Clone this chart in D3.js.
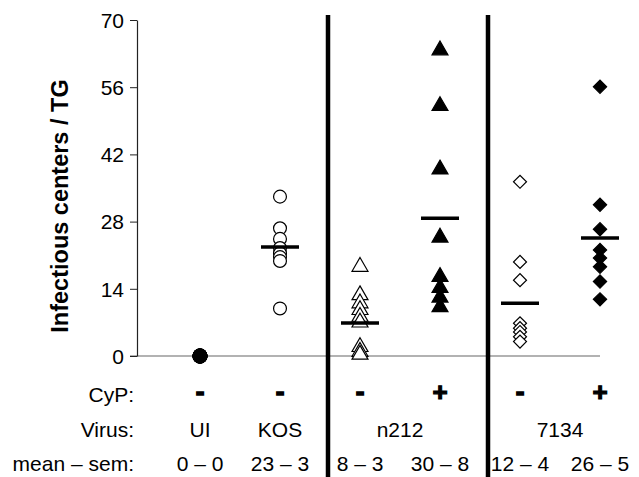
<!DOCTYPE html>
<html><head><meta charset="utf-8">
<script src="https://cdn.jsdelivr.net/npm/d3@7"></script>
<style>body{margin:0;background:#fff}svg{display:block}</style>
</head><body>
<svg id="c" width="639" height="477"></svg>
<script>
const categories = ["UI","KOS","n212-","n212+","7134-","7134+"];
const cyp = ["-","-","-","+","-","+"];
const virusLabels = [{label:"UI",cats:["UI"]},{label:"KOS",cats:["KOS"]},{label:"n212",cats:["n212-","n212+"]},{label:"7134",cats:["7134-","7134+"]}];
const meanSem = ["0 – 0","23 – 3","8 – 3","30 – 8","12 – 4","26 – 5"];
const means = [0, 22.7, 6.9, 28.7, 11.0, 24.6];
const valsUI = [0,0,0,0,0,0,0,0];
const valsKOS = [33.2,26.6,24.4,22.5,21.4,20.6,19.8,9.9];
const valsN212m = [18.6,12.7,11,9.6,8.2,7,1.9,0.9,0.3];
const valsN212p = [63.7,52.1,38.9,24.7,16.5,14.2,12.2,10.2];
const vals7134m = [36.3,19.6,15.8,6.8,5.8,5,4,3];
const vals7134p = [56.1,31.5,26.4,22.1,20.4,18.6,15.5,11.8];
const yTicks = [0,14,28,42,56,70];
const seriesVals = [valsUI,valsKOS,valsN212m,valsN212p,vals7134m,vals7134p];
const symbols = [
  {type:d3.symbolCircle, fill:"#000", size:150, rot:0},
  {type:d3.symbolCircle, fill:"#fff", size:130, rot:0},
  {type:d3.symbolTriangle, fill:"#fff", size:110, rot:0},
  {type:d3.symbolTriangle, fill:"#000", size:110, rot:0},
  {type:d3.symbolSquare, fill:"#fff", size:84, rot:45},
  {type:d3.symbolSquare, fill:"#000", size:88, rot:45}
];

const svg = d3.select("#c");
const y = d3.scaleLinear().domain([0,70]).range([356,20]);
const x = d3.scalePoint().domain(categories).range([200,600]);
const font = "'Liberation Sans', Arial, sans-serif";

// zero line
svg.append("line").attr("x1",130).attr("x2",600).attr("y1",y(0)).attr("y2",y(0))
  .attr("stroke","#666").attr("stroke-width",1.2);

// y axis
const ax = svg.append("g").attr("transform","translate(137,0)")
  .call(d3.axisLeft(y).tickValues(yTicks).tickSize(7).tickPadding(6).tickSizeOuter(0));
ax.select(".domain").attr("stroke","#222").attr("stroke-width",1.2);
ax.selectAll(".tick line").attr("stroke","#222");
ax.selectAll("text").attr("font-family",font).attr("font-size",21).attr("fill","#000").attr("dy","0.35em");

// y title
svg.append("text").attr("transform","translate(68,206) rotate(-90)")
  .attr("text-anchor","middle").attr("font-family",font).attr("font-size",23.5).attr("font-weight","bold")
  .text("Infectious centers / TG");

// separators
[["KOS","n212-"],["n212+","7134-"]].forEach(p=>{
  const sx = x(p[1]) - 32;
  svg.append("line").attr("x1",sx).attr("x2",sx).attr("y1",15).attr("y2",477)
    .attr("stroke","#000").attr("stroke-width",4.5);
});

// points
categories.forEach((c,i)=>{
  const s = symbols[i];
  svg.append("g").selectAll("path").data(seriesVals[i]).join("path")
    .attr("d", d3.symbol().type(s.type).size(s.size))
    .attr("transform", d=>`translate(${x(c)},${y(d)}) rotate(${s.rot})`)
    .attr("fill", s.fill).attr("stroke","#000").attr("stroke-width",1.2);
});

// mean lines
categories.forEach((c,i)=>{
  if (i===0) return;
  svg.append("line").attr("x1",x(c)-19).attr("x2",x(c)+19).attr("y1",y(means[i])).attr("y2",y(means[i]))
    .attr("stroke","#000").attr("stroke-width",3.5);
});

// bottom labels
const rowY = {cyp:402, virus:437, ms:471};
const lab = (t,xx,yy,anchor,bold,size)=>svg.append("text").attr("x",xx).attr("y",yy)
  .attr("text-anchor",anchor).attr("font-family",font).attr("font-size",size||21)
  .attr("font-weight",bold?"bold":"normal").text(t);
lab("CyP:",134,rowY.cyp,"end");
lab("Virus:",134,rowY.virus,"end");
lab("mean – sem:",134,rowY.ms,"end");
categories.forEach((c,i)=>{
  if (cyp[i]==="+") {
    lab("+",x(c),rowY.cyp-1,"middle",true,26).attr("stroke","#000").attr("stroke-width",1.2);
  } else {
    lab("-",x(c),rowY.cyp-2,"middle",true,26).attr("stroke","#000").attr("stroke-width",1.5);
  }
  lab(meanSem[i],x(c),rowY.ms,"middle");
});
virusLabels.forEach(v=>{
  const cx = d3.mean(v.cats,c=>x(c));
  lab(v.label,cx,rowY.virus,"middle");
});
</script>
</body></html>
